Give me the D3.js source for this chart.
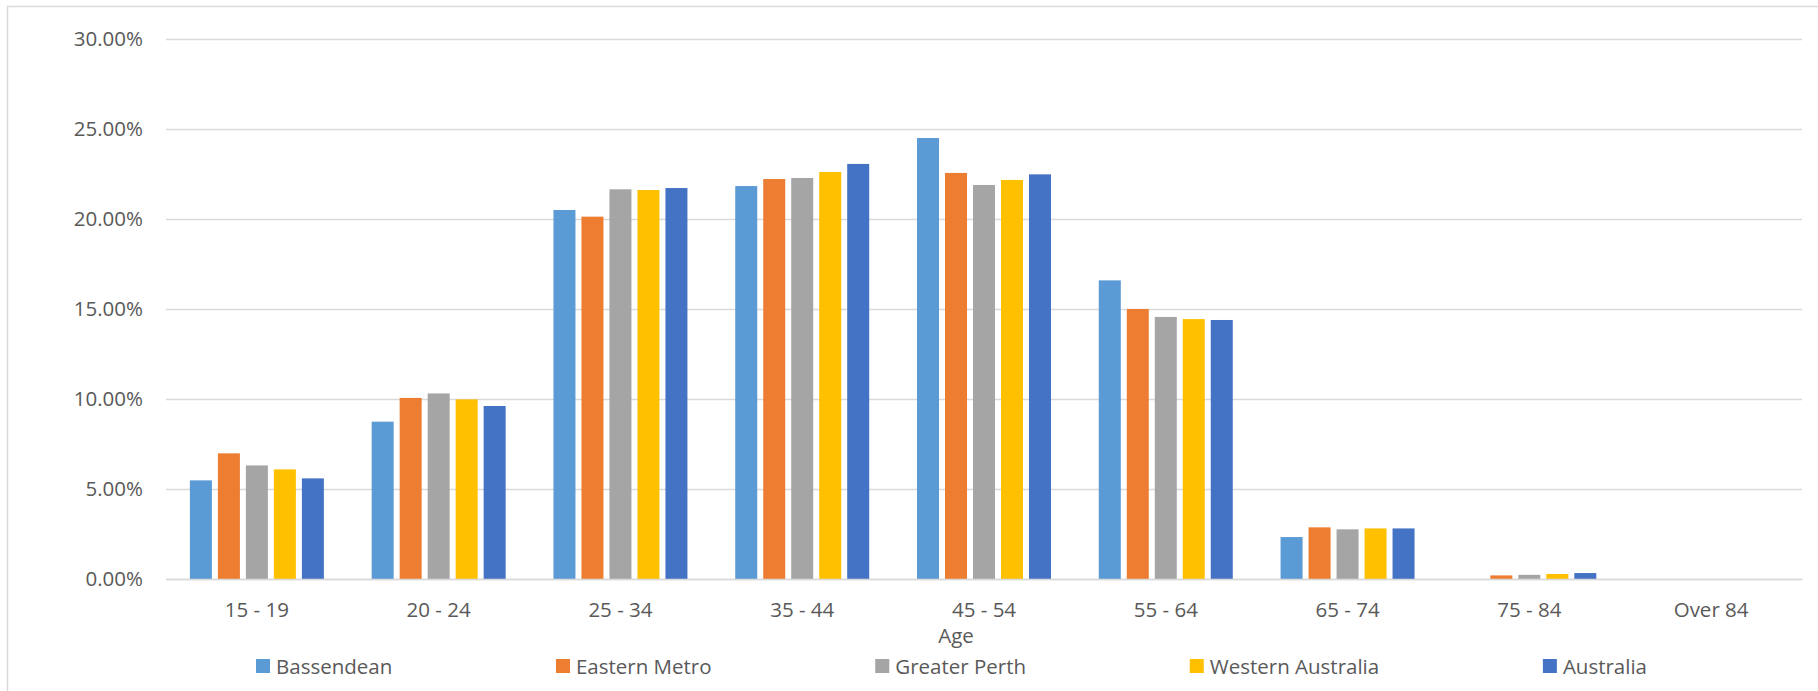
<!DOCTYPE html>
<html><head><meta charset="utf-8">
<script src="https://cdn.jsdelivr.net/npm/d3@7"></script>
<style>
body{margin:0;background:#fff;overflow:hidden}
text{font-family:"Open Sans",sans-serif;fill:#595959}
</style>
</head><body><svg id="c" width="1818" height="691"></svg>
<script>
const categories = ["15 - 19","20 - 24","25 - 34","35 - 44","45 - 54","55 - 64","65 - 74","75 - 84","Over 84"];
const seriesNames = ["Bassendean","Eastern Metro","Greater Perth","Western Australia","Australia"];
const bassendean = [5.48, 8.74, 20.50, 21.83, 24.50, 16.59, 2.33, 0, 0];
const easternMetro = [6.98, 10.06, 20.13, 22.22, 22.56, 15.00, 2.87, 0.20, 0];
const greaterPerth = [6.31, 10.31, 21.65, 22.28, 21.89, 14.56, 2.76, 0.23, 0];
const westernAustralia = [6.09, 9.98, 21.61, 22.61, 22.17, 14.44, 2.81, 0.28, 0];
const australia = [5.59, 9.61, 21.72, 23.06, 22.48, 14.39, 2.81, 0.33, 0];
const yTicks = [0, 5, 10, 15, 20, 25, 30];
const colors = ["#5B9BD5", "#ED7D31", "#A5A5A5", "#FFC000", "#4472C4"];
const axisTitle = "Age";

const seriesValues = [bassendean, easternMetro, greaterPerth, westernAustralia, australia];
const svg = d3.select("#c");
const FS = 20.5;
const L = 166, R = 1802, T = 39, B = 579;

// frame
svg.append("rect").attr("x", 7.5).attr("y", 6.5).attr("width", 1830).attr("height", 720)
  .attr("fill", "none").attr("stroke", "#d9d9d9").attr("stroke-width", 1.5);

const y = d3.scaleLinear().domain([0, 30]).range([B, T]);
const x0 = d3.scaleBand().domain(categories).range([L, R]).paddingInner(0.263).paddingOuter(0.1315);
const x1 = d3.scaleBand().domain(seriesNames).range([0, x0.bandwidth()]).paddingInner(0.214);
const color = d3.scaleOrdinal().domain(seriesNames).range(colors);

// y axis with gridlines
const yAxis = svg.append("g").attr("transform", `translate(${L},0)`)
  .call(d3.axisLeft(y).tickValues(yTicks).tickSize(-(R - L)).tickPadding(23)
    .tickFormat(d => d3.format(".2f")(d) + "%"));
yAxis.select(".domain").remove();
yAxis.selectAll(".tick line").attr("stroke", "#d9d9d9").attr("stroke-width", 1.5);
yAxis.selectAll(".tick text").attr("font-size", FS).attr("fill", "#595959")
  .style("font-family", '"Open Sans",sans-serif');

// bars
const groups = svg.append("g").selectAll("g").data(categories).join("g")
  .attr("transform", d => `translate(${x0(d)},0)`);
groups.selectAll("rect").data((c, i) => seriesNames.map((s, k) => ({s, v: seriesValues[k][i]})))
  .join("rect")
  .attr("x", d => x1(d.s))
  .attr("width", x1.bandwidth())
  .attr("y", d => y(d.v))
  .attr("height", d => B - y(d.v))
  .attr("fill", d => color(d.s));

// x axis
const xAxis = svg.append("g").attr("transform", `translate(0,${B})`)
  .call(d3.axisBottom(x0).tickSize(0).tickPadding(0));
xAxis.select(".domain").attr("stroke", "#d9d9d9").attr("stroke-width", 1.5);
xAxis.selectAll(".tick text").attr("font-size", FS).attr("fill", "#595959")
  .attr("dy", null).attr("y", 38).style("font-family", '"Open Sans",sans-serif');

// axis title
svg.append("text").attr("x", 956).attr("y", 643).attr("text-anchor", "middle")
  .attr("font-size", FS).text(axisTitle);

// legend
const leg = svg.append("g");
const items = leg.selectAll("g").data(seriesNames).join("g");
items.append("rect").attr("width", 14).attr("height", 14).attr("y", 659).attr("fill", d => color(d));
items.append("text").attr("x", 20).attr("y", 673.5).attr("font-size", FS).text(d => d);
const widths = [];
items.each(function () { widths.push(20 + d3.select(this).select("text").node().getComputedTextLength()); });
const startX = 256, endX = 1647;
const gap = (endX - startX - d3.sum(widths)) / (widths.length - 1);
let cx = startX;
items.each(function (d, i) { d3.select(this).attr("transform", `translate(${cx},0)`); cx += widths[i] + gap; });
</script>
</body></html>
